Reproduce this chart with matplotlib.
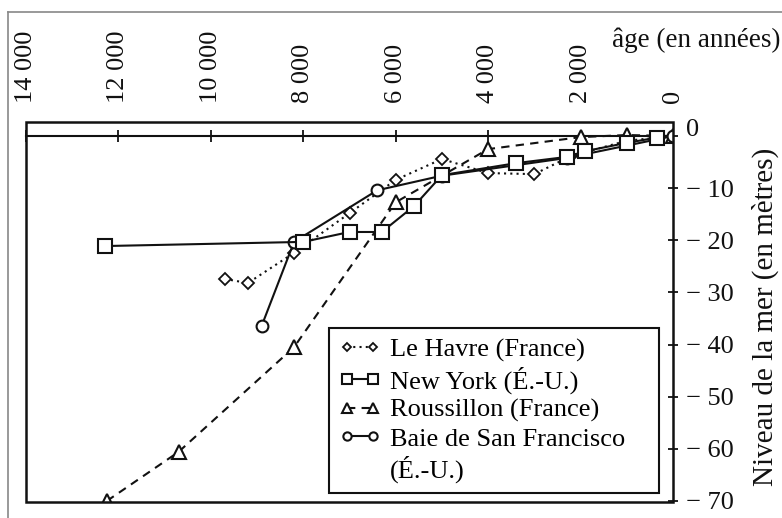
import matplotlib
matplotlib.use("Agg")
import matplotlib.pyplot as plt
from matplotlib.patches import Rectangle
from matplotlib.lines import Line2D

plt.rcParams['font.family'] = ['Liberation Serif', 'DejaVu Serif']

# ---- data ----
havre_age = [9700, 9200, 8200, 7000, 6000, 5000, 4000, 3000, 2200, 1000, 0]
havre_lvl = [-27.4, -28.2, -22.4, -14.8, -8.4, -4.4, -7.1, -7.3, -3.8, -0.9, 0.0]

ny_age = [12300, 8000, 7000, 6300, 5600, 5000, 3400, 2300, 1900, 1000, 350]
ny_lvl = [-21.1, -20.3, -18.4, -18.4, -13.4, -7.5, -5.2, -4.0, -2.9, -1.3, -0.3]

rous_age = [12250, 10700, 8200, 6000, 4000, 2000, 1000, 0]
rous_lvl = [-70.0, -60.6, -40.5, -12.7, -2.5, -0.2, 0.2, 0.0]

sf_age = [8900, 8200, 6400, 5000, 2300, 0]
sf_lvl = [-36.4, -20.3, -10.4, -7.6, -4.2, 0.0]

x_ticks = [14000, 12000, 10000, 8000, 6000, 4000, 2000, 0]
x_labels = ["14 000", "12 000", "10 000", "8 000", "6 000", "4 000", "2 000", "0"]
y_ticks = [0, -10, -20, -30, -40, -50, -60, -70]
y_labels = ["0", "\u2212 10", "\u2212 20", "\u2212 30", "\u2212 40", "\u2212 50", "\u2212 60", "\u2212 70"]

labels = ["Le Havre (France)", "New York (É.-U.)", "Roussillon (France)",
          "Baie de San Francisco", "(É.-U.)"]

FS = 19
K = "#111111"

W, H = 782, 518
fig = plt.figure(figsize=(W / 100, H / 100), dpi=100)
ax = fig.add_axes([26 / W, 1 - 502 / H, (673 - 26) / W, (502 - 122) / H])

lw = 1.5
h1, = ax.plot(havre_age, havre_lvl, linestyle=(0, (1, 2)), color=K, lw=lw, marker='D', ms=5.8,
              mfc='white', mec=K, mew=1.3, zorder=3)
h2, = ax.plot(ny_age, ny_lvl, linestyle='-', color=K, lw=lw, marker='s', ms=9.5,
              mfc='white', mec=K, mew=1.5, zorder=4)
h3, = ax.plot(rous_age, rous_lvl, linestyle=(0, (4, 3)), color=K, lw=lw, marker='^', ms=9.5,
              mfc='white', mec=K, mew=1.5, zorder=3)
h4, = ax.plot(sf_age, sf_lvl, linestyle='-', color=K, lw=lw, marker='o', ms=8.5,
              mfc='white', mec=K, mew=1.5, zorder=3)
h5 = Line2D([], [], color='none')

ax.set_xlim(14000, 0)
ax.set_ylim(-70.2, 2.7)

for s in ['left', 'right', 'bottom']:
    ax.spines[s].set_visible(False)
ax.spines['top'].set_position(('data', 0))
ax.spines['top'].set_linewidth(1.5)
ax.spines['top'].set_color(K)
ax.add_patch(Rectangle((0, 0), 1, 1, transform=ax.transAxes, fill=False,
                       lw=1.8, ec=K, clip_on=False, zorder=5))

ax.xaxis.tick_top()
ax.set_xticks(x_ticks)
ax.set_xticklabels(x_labels, rotation=90, fontsize=FS, color=K)
ax.tick_params(axis='x', direction='inout', length=8, width=1.3, pad=19.5, colors=K)

ax.yaxis.tick_right()
ax.set_yticks(y_ticks)
ax.set_yticklabels(y_labels, fontsize=FS, color=K)
ax.tick_params(axis='y', direction='inout', length=7, width=1.3, pad=6, colors=K)
ax.get_yticklabels()[0].set_va('baseline')

leg = ax.legend([h1, h2, h3, h4, h5], labels,
                loc='lower left', bbox_to_anchor=(0.468, 0.024, 0.51, 0.44),
                mode='expand', borderaxespad=0,
                fontsize=FS, frameon=True, fancybox=False, framealpha=1,
                edgecolor=K, markerscale=0.7, handlelength=1.6, handletextpad=0.35,
                labelspacing=0.18, borderpad=0.38, numpoints=2)
leg.get_frame().set_linewidth(1.5)

fig.text(780 / W, 1 - 47 / H, "âge (en années)", fontsize=FS + 0.5, color=K,
         ha='right', va='baseline')
fig.text(765 / W, 1 - 317 / H, "Niveau de la mer (en mètres)", fontsize=21, color=K,
         rotation=90, ha='center', va='center')

# outer gray border
fig.add_artist(Line2D([8 / W, 8 / W], [0, 1 - 12 / H], color='#888888', lw=1.2,
                      transform=fig.transFigure))
fig.add_artist(Line2D([8 / W, 1], [1 - 12 / H, 1 - 12 / H], color='#888888', lw=1.2,
                      transform=fig.transFigure))

fig.savefig("out.png", dpi=100)
